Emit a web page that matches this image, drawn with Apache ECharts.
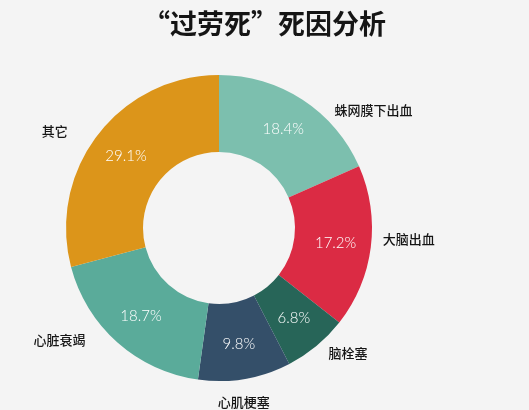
<!DOCTYPE html>
<html>
<head>
<meta charset="utf-8">
<script src="https://cdn.jsdelivr.net/npm/echarts@6/dist/echarts.min.js"></script>
<style>
html,body{margin:0;padding:0;background:#f4f4f4;}
#chart{width:529px;height:410px;}
</style>
</head>
<body>
<div id="chart"></div>
<script>
const categories = ['蛛网膜下出血', '大脑出血', '脑栓塞', '心肌梗塞', '心脏衰竭', '其它'];
const values = [18.4, 17.2, 6.8, 9.8, 18.7, 29.1];
const colors = ['#7cbfae', '#db2b44', '#276558', '#344f69', '#5aab9a', '#dc951a'];
const titleText = '“过劳死”死因分析';

// small nudges for the outer name labels (dx, dy)
const nameNudge = [[27, 10], [7, -8], [7, 7], [-32, 23], [-27, -2], [-25, -4]];

const data = categories.map((name, i) => ({ name: name, value: values[i], itemStyle: { color: colors[i] } }));

const chart = echarts.init(document.getElementById('chart'));
chart.setOption({
  backgroundColor: '#f4f4f4',
  animation: false,
  title: {
    text: titleText,
    left: 'center',
    top: 5,
    textStyle: { fontSize: 27, fontWeight: 'bold', color: '#151515', fontFamily: 'Noto Sans CJK SC' }
  },
  series: [
    {
      type: 'pie',
      center: [219, 228],
      radius: [76, 153],
      startAngle: 90,
      clockwise: true,
      silent: true,
      data: data,
      label: {
        show: true,
        position: 'inside',
        formatter: p => p.value.toFixed(1) + '%',
        color: '#ffffff',
        fontSize: 15,
        fontWeight: 300,
        fontFamily: 'Lato, Roboto, sans-serif'
      },
      labelLine: { show: false }
    },
    {
      type: 'pie',
      center: [219, 228],
      radius: [76, 153],
      startAngle: 90,
      clockwise: true,
      silent: true,
      data: data.map(d => ({ name: d.name, value: d.value, itemStyle: { color: 'rgba(0,0,0,0)' } })),
      label: {
        show: true,
        position: 'outside',
        formatter: '{b}',
        color: '#151515',
        fontSize: 13,
        fontWeight: 500,
        fontFamily: 'Noto Sans CJK SC'
      },
      labelLine: { show: false, length: 0, length2: 0 },
      labelLayout: function (p) {
        const n = nameNudge[p.dataIndex];
        return { dx: n[0], dy: n[1] };
      }
    }
  ]
});
</script>
</body>
</html>
